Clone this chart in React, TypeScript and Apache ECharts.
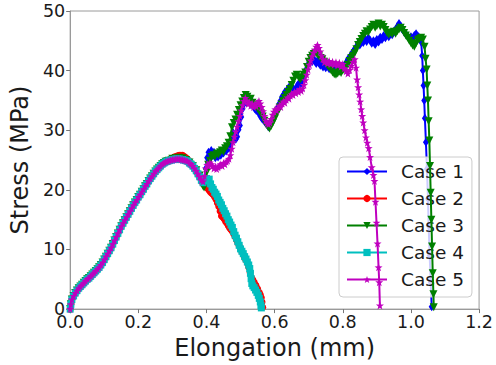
import React, { useEffect, useRef } from "react";
import * as echarts from "echarts";

// Shared initial loading branch (all five cases coincide here)
const riseShared: [number, number][] = [
  [0, 0], [0.002, 0.8], [0.005, 1.6], [0.01, 2.2], [0.015, 2.7], [0.02, 3.1], [0.025, 3.5], [0.03, 3.8],
  [0.035, 4.1], [0.04, 4.4], [0.045, 4.7], [0.05, 5.0], [0.055, 5.2], [0.06, 5.5], [0.065, 5.8], [0.07, 6.1],
  [0.075, 6.4], [0.08, 6.7], [0.085, 7.0], [0.09, 7.4], [0.095, 7.8], [0.1, 8.3], [0.105, 8.8], [0.11, 9.3],
  [0.115, 9.8], [0.12, 10.3], [0.125, 10.9], [0.13, 11.5], [0.135, 12.1], [0.14, 12.7], [0.145, 13.3], [0.15, 13.9],
  [0.155, 14.4], [0.16, 14.9], [0.165, 15.4], [0.17, 15.9], [0.175, 16.4], [0.18, 16.9], [0.185, 17.4], [0.19, 17.9],
  [0.195, 18.3], [0.2, 18.8], [0.205, 19.2], [0.21, 19.7], [0.215, 20.1], [0.22, 20.6], [0.225, 21.0], [0.23, 21.5],
  [0.235, 21.9], [0.24, 22.3], [0.245, 22.7], [0.25, 23.1], [0.255, 23.4], [0.26, 23.7], [0.265, 24.0], [0.27, 24.3],
  [0.275, 24.5], [0.28, 24.7], [0.285, 24.8],
];

// Peak region shared by cases 1, 4 and 5
const peakCommon: [number, number][] = [
  [0.29, 24.9], [0.295, 25.0], [0.3, 25.1], [0.305, 25.1], [0.31, 25.2], [0.315, 25.2], [0.32, 25.2], [0.325, 25.1],
  [0.33, 25.1], [0.335, 25.0], [0.34, 24.9], [0.345, 24.8], [0.35, 24.5], [0.355, 24.3], [0.36, 24.0], [0.365, 23.6],
  [0.37, 23.2], [0.375, 22.7], [0.38, 22.2], [0.385, 21.6],
];

const case1Tail: [number, number][] = [
  [0.39, 21.2], [0.394, 21.9], [0.398, 23.6], [0.402, 25.4], [0.406, 26.3], [0.41, 25.9], [0.414, 26.6], [0.418, 25.8],
  [0.422, 26.3], [0.426, 25.4], [0.43, 25.8], [0.434, 25.5], [0.438, 26.1], [0.442, 25.8], [0.446, 26.4], [0.45, 26.2],
  [0.454, 26.7], [0.458, 26.5], [0.462, 27.1], [0.466, 27.0], [0.47, 27.5], [0.474, 28.4], [0.478, 29.6], [0.482, 29.2],
  [0.486, 28.5], [0.49, 28.9], [0.494, 30.1], [0.498, 30.8], [0.502, 32.2], [0.506, 33.6], [0.51, 34.4], [0.514, 35.0],
  [0.518, 34.6], [0.522, 35.3], [0.526, 34.7], [0.53, 34.3], [0.534, 34.8], [0.538, 33.9], [0.542, 33.6], [0.546, 33.3],
  [0.55, 33.7], [0.554, 32.8], [0.558, 32.4], [0.562, 32.0], [0.566, 31.8], [0.57, 31.5], [0.574, 31.2], [0.578, 30.9],
  [0.582, 30.6], [0.586, 30.8], [0.59, 31.3], [0.594, 31.9], [0.598, 32.5], [0.602, 33.0], [0.606, 33.2], [0.61, 33.9],
  [0.614, 34.5], [0.618, 35.0], [0.622, 35.6], [0.626, 35.9], [0.63, 36.4], [0.634, 36.2], [0.638, 36.9], [0.642, 37.2],
  [0.646, 36.8], [0.65, 37.3], [0.654, 37.0], [0.658, 36.6], [0.662, 36.9], [0.666, 37.4], [0.67, 37.8], [0.674, 37.6],
  [0.678, 38.0], [0.682, 38.6], [0.686, 39.1], [0.69, 39.8], [0.694, 40.3], [0.698, 41.0], [0.702, 41.4], [0.706, 41.9],
  [0.71, 41.5], [0.714, 42.0], [0.718, 41.6], [0.722, 41.2], [0.726, 41.7], [0.73, 41.3], [0.734, 40.9], [0.738, 41.2],
  [0.742, 40.6], [0.746, 40.9], [0.75, 40.5], [0.755, 40.8], [0.76, 40.3], [0.765, 40.6], [0.77, 40.1], [0.775, 40.4],
  [0.78, 40.0], [0.785, 40.5], [0.79, 40.2], [0.795, 40.6], [0.8, 40.3], [0.805, 40.9], [0.81, 41.3], [0.815, 41.9],
  [0.82, 42.3], [0.825, 42.6], [0.83, 43.2], [0.835, 43.6], [0.84, 44.0], [0.845, 44.6], [0.85, 44.3], [0.855, 45.0],
  [0.86, 44.7], [0.865, 45.3], [0.87, 44.9], [0.875, 45.5], [0.88, 45.1], [0.885, 44.6], [0.89, 45.0], [0.895, 44.4],
  [0.9, 45.2], [0.905, 44.8], [0.91, 45.6], [0.915, 45.2], [0.92, 45.9], [0.925, 45.5], [0.93, 46.1], [0.935, 45.7],
  [0.94, 46.3], [0.945, 46.0], [0.95, 46.6], [0.955, 46.9], [0.96, 47.4], [0.965, 47.9], [0.97, 47.5], [0.975, 46.9],
  [0.98, 46.5], [0.985, 46.1], [0.99, 45.8], [0.995, 45.4], [1.0, 45.7], [1.005, 45.3], [1.01, 45.9], [1.015, 46.2],
  [1.02, 45.8], [1.025, 45.5], [1.03, 44.8], [1.033, 42.5], [1.035, 40.0], [1.037, 37.5], [1.039, 35.0], [1.041, 32.0],
  [1.044, 28.0], [1.047, 23.5], [1.05, 18.5], [1.052, 14.0], [1.055, 9.0], [1.058, 4.5], [1.061, 0.4],
];

const case2Tail: [number, number][] = [
  [0.29, 25.0], [0.295, 25.2], [0.3, 25.3], [0.305, 25.5], [0.31, 25.6], [0.315, 25.7], [0.32, 25.8], [0.325, 25.8],
  [0.33, 25.8], [0.335, 25.6], [0.34, 25.4], [0.345, 25.1], [0.35, 24.8], [0.355, 24.5], [0.36, 24.1], [0.365, 23.6],
  [0.37, 23.1], [0.375, 22.6], [0.38, 22.1], [0.385, 21.5], [0.39, 21.0], [0.395, 20.7], [0.4, 20.5], [0.404, 20.2],
  [0.408, 19.9], [0.412, 19.6], [0.416, 19.4], [0.42, 19.2], [0.424, 18.8], [0.428, 18.4], [0.432, 17.8], [0.436, 17.2],
  [0.44, 16.4], [0.444, 15.6], [0.448, 15.4], [0.452, 15.1], [0.456, 14.7], [0.46, 14.4], [0.464, 14.0], [0.468, 13.6],
  [0.472, 13.3], [0.476, 13.0], [0.48, 12.6], [0.484, 12.1], [0.488, 11.6], [0.492, 11.1], [0.496, 10.6], [0.5, 10.1],
  [0.504, 9.6], [0.508, 9.1], [0.512, 8.6], [0.516, 8.2], [0.52, 7.7], [0.524, 7.0], [0.528, 6.2], [0.532, 5.3],
  [0.536, 4.9], [0.54, 4.5], [0.545, 4.0], [0.55, 3.4], [0.555, 2.8], [0.558, 2.4], [0.561, 1.9], [0.563, 1.2],
  [0.565, 0.3],
];

const case3Tail: [number, number][] = [
  [0.29, 24.9], [0.3, 25.2], [0.31, 25.3], [0.32, 25.4], [0.33, 25.3], [0.34, 25.0], [0.35, 24.6], [0.36, 24.0],
  [0.37, 23.3], [0.38, 22.4], [0.386, 21.4], [0.39, 20.6], [0.393, 20.4], [0.397, 21.6], [0.401, 23.0], [0.405, 24.2],
  [0.41, 24.9], [0.415, 25.5], [0.42, 25.8], [0.425, 25.6], [0.43, 26.1], [0.435, 25.9], [0.44, 26.3], [0.445, 26.6],
  [0.45, 26.4], [0.455, 27.0], [0.46, 27.3], [0.465, 27.9], [0.47, 29.0], [0.475, 30.5], [0.48, 31.2], [0.485, 31.8],
  [0.49, 32.6], [0.495, 33.4], [0.5, 34.2], [0.505, 34.8], [0.51, 35.4], [0.515, 35.9], [0.52, 35.6], [0.525, 35.1],
  [0.53, 35.3], [0.535, 34.6], [0.54, 34.2], [0.545, 34.0], [0.55, 33.6], [0.555, 33.2], [0.56, 32.8], [0.565, 32.3],
  [0.57, 31.6], [0.575, 31.0], [0.58, 30.6], [0.585, 30.3], [0.59, 30.7], [0.595, 31.3], [0.6, 31.9], [0.605, 32.6],
  [0.61, 33.2], [0.615, 33.8], [0.62, 34.3], [0.625, 34.9], [0.63, 35.4], [0.635, 35.9], [0.64, 36.4], [0.645, 36.9],
  [0.65, 37.6], [0.655, 38.3], [0.66, 39.0], [0.665, 39.3], [0.67, 38.9], [0.675, 38.5], [0.68, 38.8], [0.685, 39.3],
  [0.69, 39.7], [0.695, 40.6], [0.7, 41.5], [0.705, 42.1], [0.71, 42.5], [0.715, 42.8], [0.72, 43.0], [0.725, 42.7],
  [0.73, 42.4], [0.735, 42.1], [0.74, 41.9], [0.745, 41.5], [0.75, 41.2], [0.755, 40.8], [0.76, 40.5], [0.765, 40.1],
  [0.77, 39.7], [0.775, 39.4], [0.78, 39.3], [0.785, 39.5], [0.79, 39.8], [0.795, 39.6], [0.8, 40.0], [0.805, 40.3],
  [0.81, 40.6], [0.815, 41.0], [0.82, 41.6], [0.825, 42.1], [0.83, 42.5], [0.835, 42.9], [0.84, 43.6], [0.845, 44.3],
  [0.85, 44.8], [0.855, 45.3], [0.86, 45.8], [0.865, 46.2], [0.87, 46.6], [0.875, 46.4], [0.88, 46.9], [0.885, 47.3],
  [0.89, 47.7], [0.895, 47.2], [0.9, 47.5], [0.905, 47.9], [0.91, 47.4], [0.915, 47.7], [0.92, 47.3], [0.925, 46.8],
  [0.93, 46.3], [0.935, 46.0], [0.94, 46.4], [0.945, 46.1], [0.95, 46.5], [0.955, 46.2], [0.96, 46.6], [0.965, 46.9],
  [0.97, 47.2], [0.975, 46.8], [0.98, 46.3], [0.985, 45.9], [0.99, 45.5], [0.995, 45.0], [1.0, 44.6], [1.005, 44.2],
  [1.01, 44.0], [1.015, 44.6], [1.02, 45.1], [1.025, 45.3], [1.03, 45.5], [1.035, 45.2], [1.04, 44.0], [1.043, 42.0],
  [1.046, 40.2], [1.048, 37.5], [1.05, 35.0], [1.052, 31.5], [1.054, 28.3], [1.056, 24.0], [1.058, 19.5], [1.06, 15.0],
  [1.062, 10.5], [1.064, 6.0], [1.066, 2.5], [1.067, 0.3],
];

const case4Tail: [number, number][] = [
  [0.39, 21.2], [0.395, 21.6], [0.4, 21.9], [0.404, 21.5], [0.408, 21.8], [0.412, 21.0], [0.416, 20.4], [0.42, 20.1],
  [0.424, 19.6], [0.428, 19.3], [0.432, 18.9], [0.436, 18.3], [0.44, 17.9], [0.444, 17.5], [0.448, 16.9], [0.452, 16.5],
  [0.456, 16.0], [0.46, 15.6], [0.464, 15.0], [0.468, 14.6], [0.472, 14.1], [0.476, 13.7], [0.48, 13.0], [0.484, 12.4],
  [0.488, 11.9], [0.492, 11.3], [0.496, 10.7], [0.5, 10.1], [0.504, 9.7], [0.508, 9.3], [0.512, 8.8], [0.516, 8.4],
  [0.52, 7.9], [0.524, 7.4], [0.527, 6.8], [0.529, 6.0], [0.531, 5.1], [0.533, 4.3], [0.536, 3.9], [0.54, 3.6],
  [0.544, 3.2], [0.548, 2.8], [0.552, 2.3], [0.555, 1.8], [0.558, 1.2], [0.56, 0.6], [0.561, 0.2],
];

const case5Tail: [number, number][] = [
  [0.39, 21.4], [0.394, 22.3], [0.398, 23.6], [0.402, 24.2], [0.406, 24.0], [0.41, 24.6], [0.414, 24.3], [0.418, 24.0],
  [0.422, 23.6], [0.426, 23.9], [0.43, 23.5], [0.434, 23.8], [0.438, 24.1], [0.442, 24.3], [0.446, 24.0], [0.45, 24.5],
  [0.454, 24.3], [0.458, 24.7], [0.462, 24.9], [0.466, 25.2], [0.47, 25.8], [0.474, 26.9], [0.478, 28.0], [0.482, 28.9],
  [0.486, 29.8], [0.49, 30.6], [0.494, 31.5], [0.498, 32.4], [0.502, 33.3], [0.506, 34.2], [0.51, 34.9], [0.514, 35.4],
  [0.518, 35.0], [0.522, 34.4], [0.526, 34.7], [0.53, 34.1], [0.534, 34.5], [0.538, 33.9], [0.542, 34.3], [0.546, 34.0],
  [0.55, 34.6], [0.554, 34.9], [0.558, 34.5], [0.562, 33.9], [0.566, 33.2], [0.57, 32.4], [0.574, 31.6], [0.578, 31.2],
  [0.582, 31.0], [0.586, 31.3], [0.59, 31.9], [0.594, 32.6], [0.598, 33.1], [0.602, 33.5], [0.606, 33.3], [0.61, 33.8],
  [0.614, 34.1], [0.618, 33.9], [0.622, 34.5], [0.626, 34.8], [0.63, 34.6], [0.634, 35.1], [0.638, 35.5], [0.642, 35.3],
  [0.646, 35.8], [0.65, 36.1], [0.654, 35.9], [0.658, 36.4], [0.662, 36.2], [0.666, 36.6], [0.67, 36.4], [0.674, 36.9],
  [0.678, 36.6], [0.682, 37.0], [0.686, 37.6], [0.69, 38.4], [0.694, 39.3], [0.698, 40.2], [0.702, 41.0], [0.706, 41.7],
  [0.71, 42.4], [0.714, 43.0], [0.718, 43.5], [0.722, 44.0], [0.726, 44.3], [0.73, 43.8], [0.734, 43.2], [0.738, 42.5],
  [0.742, 41.9], [0.746, 41.4], [0.75, 41.7], [0.755, 41.2], [0.76, 41.6], [0.765, 41.1], [0.77, 41.5], [0.775, 41.0],
  [0.78, 41.4], [0.785, 40.9], [0.79, 41.3], [0.795, 40.7], [0.8, 41.1], [0.805, 40.4], [0.81, 39.9], [0.815, 39.5],
  [0.82, 40.1], [0.825, 40.8], [0.83, 41.5], [0.835, 41.9], [0.839, 40.5], [0.842, 38.5], [0.845, 37.2], [0.848, 36.0],
  [0.851, 34.8], [0.854, 33.5], [0.857, 32.4], [0.86, 31.3], [0.864, 30.0], [0.868, 28.8], [0.872, 27.9], [0.876, 27.0],
  [0.88, 25.5], [0.885, 23.8], [0.89, 22.5], [0.893, 21.5], [0.896, 18.0], [0.899, 14.5], [0.902, 11.0], [0.905, 7.0],
  [0.907, 4.5], [0.909, 0.6],
];

const caseNames = ["Case 1", "Case 2", "Case 3", "Case 4", "Case 5"];
const caseColors = ["#0000ff", "#ff0000", "#008000", "#00bfbf", "#bf00bf"];
const xTicks = { min: 0, max: 1.2, interval: 0.2 };
const yTicks = { min: 0, max: 50, interval: 10 };

const case1 = [...riseShared, ...peakCommon, ...case1Tail];
const case2 = [...riseShared, ...case2Tail];
const case3 = [...riseShared, ...case3Tail];
const case4 = [...riseShared, ...peakCommon, ...case4Tail];
const case5 = [...riseShared, ...peakCommon, ...case5Tail];
const caseData = [case1, case2, case3, case4, case5];

const STAR =
  "path://M0,-10L2.35,-3.24L9.51,-3.09L3.8,1.24L5.88,8.09L0,4L-5.88,8.09L-3.8,1.24L-9.51,-3.09L-2.35,-3.24Z";
const TRI_DOWN = "path://M0,0L10,0L5,9Z";
const THIN_DIAMOND = "path://M3,0L6,5L3,10L0,5Z";
const symbols = [THIN_DIAMOND, "circle", TRI_DOWN, "rect", STAR];
const symbolSizes: any[] = [[6, 9], 7, 8, 7, 8];

const FONT = "DejaVu Sans";

export default function App() {
  const ref = useRef<HTMLDivElement>(null);
  useEffect(() => {
    if (!ref.current) return;
    const chart = echarts.init(ref.current, undefined, { renderer: "svg" });
    chart.setOption({
      animation: false,
      backgroundColor: "#ffffff",
      textStyle: { fontFamily: FONT },
      grid: {
        left: 68,
        top: 11,
        right: 14,
        bottom: 54,
        show: true,
        borderColor: "#9a9a9a",
        borderWidth: 1,
        backgroundColor: "transparent",
      },
      legend: {
        orient: "vertical",
        left: 339,
        top: 157,
        padding: [5, 8, 8, 7],
        itemWidth: 40,
        itemHeight: 9,
        itemGap: 8,
        backgroundColor: "rgba(255,255,255,0.8)",
        borderColor: "#cccccc",
        borderWidth: 1,
        borderRadius: 4,
        lineStyle: { width: 2 },
        formatter: "{n|{name}}",
        textStyle: {
          fontFamily: FONT,
          fontSize: 18.5,
          color: "#1a1a1a",
          rich: {
            n: {
              fontFamily: FONT,
              fontSize: 18.5,
              color: "#1a1a1a",
              lineHeight: 20,
              padding: [0, 0, 0, 9],
            },
          },
        },
        data: caseNames,
        selectedMode: false,
      },
      xAxis: {
        type: "value",
        min: xTicks.min,
        max: xTicks.max,
        interval: xTicks.interval,
        name: "Elongation (mm)",
        nameLocation: "middle",
        nameGap: 23,
        nameTextStyle: { fontFamily: FONT, fontSize: 24, color: "#1a1a1a", verticalAlign: "top" },
        axisLine: { show: true, onZero: false, lineStyle: { color: "#9a9a9a", width: 1 } },
        axisTick: { show: true, length: 4, inside: false, lineStyle: { color: "#777" } },
        axisLabel: {
          fontFamily: FONT,
          fontSize: 17.5,
          color: "#1a1a1a",
          margin: 4,
          formatter: (v: number) => v.toFixed(1),
        },
        splitLine: { show: false },
      },
      yAxis: {
        type: "value",
        min: yTicks.min,
        max: yTicks.max,
        interval: yTicks.interval,
        name: "Stress (MPa)",
        nameLocation: "middle",
        nameGap: 28,
        nameTextStyle: { fontFamily: FONT, fontSize: 24, color: "#1a1a1a" },
        axisLine: { show: true, lineStyle: { color: "#9a9a9a", width: 1 } },
        axisTick: { show: true, length: 4, inside: false, lineStyle: { color: "#777" } },
        axisLabel: { fontFamily: FONT, fontSize: 17.5, color: "#1a1a1a", margin: 5 },
        splitLine: { show: false },
      },
      series: caseNames.map((name, i) => ({
        name,
        type: "line",
        data: caseData[i],
        symbol: symbols[i],
        symbolSize: symbolSizes[i],
        showSymbol: true,
        showAllSymbol: true,
        lineStyle: { color: caseColors[i], width: 2 },
        itemStyle: { color: caseColors[i], borderWidth: 0 },
        emphasis: { disabled: true },
        silent: true,
        z: 2 + i,
      })),
    });
    return () => chart.dispose();
  }, []);
  return (
    <div
      ref={ref}
      style={{ position: "fixed", left: 0, top: 0, width: 496, height: 365, background: "#fff" }}
    />
  );
}
